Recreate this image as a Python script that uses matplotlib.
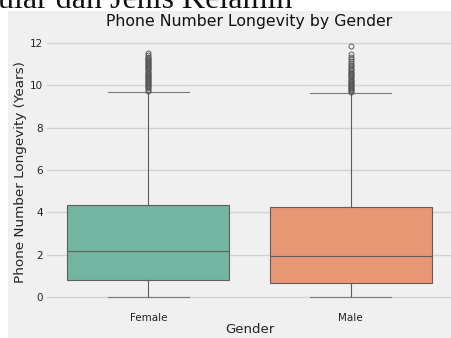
import colorsys
import matplotlib
matplotlib.use("Agg")
import matplotlib.pyplot as plt
from matplotlib.patches import Rectangle
from matplotlib.colors import to_rgb

# Summary statistics of phone number longevity (years) per gender
genders = ["Female", "Male"]
q1 = [0.82, 0.67]
median = [2.18, 1.95]
q3 = [4.35, 4.26]
whisker_low = [0.0, 0.0]
whisker_high = [9.70, 9.62]
fliers_female = [9.75, 9.8, 9.85, 9.9, 9.95, 10.0, 10.05, 10.1, 10.15, 10.2,
                 10.25, 10.3, 10.35, 10.4, 10.45, 10.5, 10.55, 10.6, 10.65,
                 10.7, 10.75, 10.8, 10.85, 10.9, 10.95, 11.0, 11.05, 11.1,
                 11.15, 11.2, 11.25, 11.3, 11.35, 11.42, 11.5]
fliers_male = [9.68, 9.72, 9.77, 9.82, 9.87, 9.92, 9.97, 10.02, 10.07, 10.12,
               10.17, 10.22, 10.27, 10.32, 10.37, 10.42, 10.47, 10.52, 10.58,
               10.64, 10.7, 10.76, 10.82, 10.9, 10.98, 11.06, 11.15, 11.25,
               11.35, 11.48, 11.85]
yticks = [0, 2, 4, 6, 8, 10, 12]

TITLE = "Phone Number Longevity by Gender"
XLABEL = "Gender"
YLABEL = "Phone Number Longevity (Years)"
CAPTION = "ular dan Jenis Kelamin"

W, H = 452, 338


def desaturate(color, prop):
    h, l, s = colorsys.rgb_to_hls(*to_rgb(color))
    return colorsys.hls_to_rgb(h, l, s * prop)


fills = [desaturate("#66c2a5", 0.75), desaturate("#fc8d62", 0.75)]
line_col = "#5e5e5e"

fig = plt.figure(figsize=(W / 100, H / 100), dpi=100, facecolor="white")

# grey chart panel below the document caption
fig.patches.append(Rectangle((8 / W, 0), 1 - 8 / W, 1 - 11 / H,
                             transform=fig.transFigure, facecolor="#f0f0f0",
                             edgecolor="none", zorder=-5))
fig.text(-2 / W, 1 - 8.5 / H, CAPTION, family="Liberation Serif", fontsize=23,
         ha="left", va="baseline", color="#111111")

ylo, yhi = -0.6, 12.4
top_px, bot_px = 297.3 - yhi * 21.2, 297.3 - ylo * 21.2
ax = fig.add_axes([47.25 / W, 1 - bot_px / H, (W - 47.25) / W,
                   (bot_px - top_px) / H])
ax.set_facecolor("#f0f0f0")
for s in ax.spines.values():
    s.set_visible(False)

stats = []
for i, g in enumerate(genders):
    stats.append(dict(label=g, q1=q1[i], med=median[i], q3=q3[i],
                      whislo=whisker_low[i], whishi=whisker_high[i],
                      fliers=[fliers_female, fliers_male][i]))

bp = ax.bxp(stats, positions=[0, 1], widths=0.8, capwidths=0.4,
            patch_artist=True, showfliers=True,
            boxprops=dict(edgecolor=line_col, linewidth=0.8),
            medianprops=dict(color=line_col, linewidth=0.8),
            whiskerprops=dict(color=line_col, linewidth=0.8),
            capprops=dict(color="#7a7a7a", linewidth=0.8),
            flierprops=dict(marker="o", markersize=3.6, markerfacecolor="none",
                            markeredgecolor="#555555", markeredgewidth=0.65))
for patch, c in zip(bp["boxes"], fills):
    patch.set_facecolor(c)

ax.set_xlim(-0.5, 1.5)
ax.set_ylim(ylo, yhi)
ax.set_yticks(yticks)
ax.set_xticks([0, 1])
ax.set_xticklabels(genders)
ax.yaxis.grid(True, color="#d2d2d2", linewidth=1.0)
ax.xaxis.grid(False)
ax.set_axisbelow(True)
ax.tick_params(axis="both", length=0, labelsize=7.5, colors="#222222")
ax.tick_params(axis="y", pad=3)
ax.tick_params(axis="x", pad=2)

ax.set_title(TITLE, fontsize=11.3, color="#111111", pad=6)
ax.set_xlabel(XLABEL, fontsize=9.5, color="#222222", labelpad=0)
ax.set_ylabel(YLABEL, fontsize=9.7, color="#222222", labelpad=2)

fig.savefig("out.png", dpi=100, facecolor="white")
